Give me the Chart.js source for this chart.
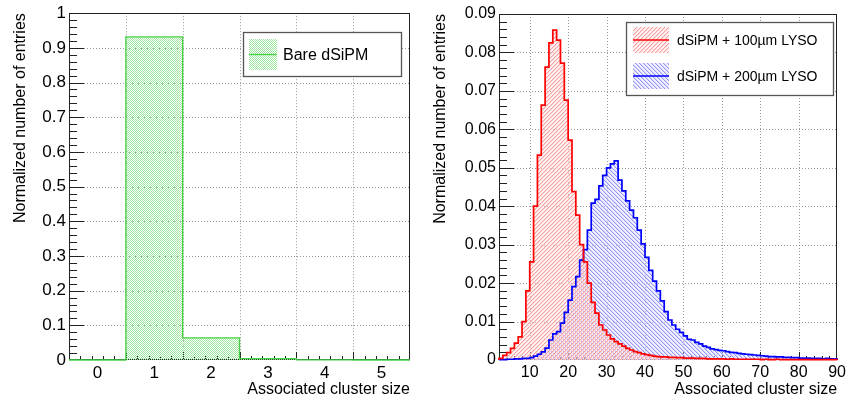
<!DOCTYPE html>
<html><head><meta charset="utf-8">
<script src="https://cdn.jsdelivr.net/npm/chart.js@4.4.0/dist/chart.umd.min.js"></script>
<style>
html,body{margin:0;padding:0;background:#fff;width:849px;height:403px;overflow:hidden}
#c1{position:absolute;left:0;top:0}
#c2{position:absolute;left:420px;top:0}
</style></head><body>
<canvas id="c1" width="420" height="403"></canvas>
<canvas id="c2" width="429" height="403"></canvas>
<script>
// ---------------- DATA ----------------
// Left panel: bare dSiPM, bins centred on integer cluster sizes
const bareCategories = [0, 1, 2, 3, 4, 5];
const bareValues = [0, 0.932, 0.064, 0.004, 0.0003, 0];
const leftXTickLabels = [0, 1, 2, 3, 4, 5];
const leftYTicks = [0, 0.1, 0.2, 0.3, 0.4, 0.5, 0.6, 0.7, 0.8, 0.9, 1];

// Right panel: bins [n, n+1) for n = 2 .. 89
const rightBinLow = [2,3,4,5,6,7,8,9,10,11,12,13,14,15,16,17,18,19,20,21,22,23,24,25,26,27,28,29,30,31,32,33,34,35,36,37,38,39,40,41,42,43,44,45,46,47,48,49,50,51,52,53,54,55,56,57,58,59,60,61,62,63,64,65,66,67,68,69,70,71,72,73,74,75,76,77,78,79,80,81,82,83,84,85,86,87,88,89];
const lyso100Values = [
  0.0004,0.0012,0.0019,0.0030,0.0044,0.0060,0.0100,0.0180,0.0255,0.0400,
  0.0533,0.0663,0.0762,0.0825,0.0858,0.0832,0.0772,0.0676,0.0572,0.0438,
  0.0377,0.0300,0.0255,0.0200,0.0150,0.0122,0.0091,0.0078,0.0065,0.0055,
  0.0048,0.0042,0.0036,0.0030,0.0026,0.0022,0.0019,0.0016,0.0014,0.0012,
  0.0010,0.0009,0.0008,0.0008,0.0007,0.0007,0.0006,0.0006,0.0005,0.0005,
  0.0005,0.0004,0.0004,0.0004,0.0003,0.0003,0.0003,0.0003,0.0003,0.0002,
  0.0003,0.0002,0.0002,0.0002,0.0002,0.0002,0.0002,0.0002,0.0001,0.0002,
  0.0001,0.0001,0.0002,0.0001,0.0001,0.0001,0.0001,0.0001,0.0001,0.0001,
  0.0001,0.0001,0.0001,0.0001,0.0001,0.0001,0.0001,0.0001
];
const lyso200Values = [
  0.0001,0.0001,0.0002,0.0002,0.0003,0.0003,0.0004,0.0004,0.0006,0.0010,
  0.0015,0.0021,0.0031,0.0052,0.0068,0.0074,0.0096,0.0124,0.0156,0.0191,
  0.0217,0.0260,0.0287,0.0338,0.0408,0.0418,0.0453,0.0480,0.0500,0.0510,
  0.0518,0.0468,0.0440,0.0414,0.0390,0.0370,0.0338,0.0302,0.0267,0.0233,
  0.0205,0.0180,0.0154,0.0126,0.0104,0.0091,0.0080,0.0072,0.0063,0.0054,
  0.0052,0.0046,0.0042,0.0036,0.0033,0.0029,0.0027,0.0025,0.0024,0.0022,
  0.0020,0.0019,0.0017,0.0016,0.0015,0.0014,0.0013,0.0012,0.0011,0.0010,
  0.0009,0.0009,0.0008,0.0008,0.0007,0.0007,0.0006,0.0006,0.0005,0.0005,
  0.0005,0.0004,0.0004,0.0004,0.0003,0.0004,0.0003,0.0003
];
const rightXTicks = [10, 20, 30, 40, 50, 60, 70, 80, 90];
const rightYTicks = [0, 0.01, 0.02, 0.03, 0.04, 0.05, 0.06, 0.07, 0.08, 0.09];

const FONT = "'Liberation Sans', Arial, Helvetica, sans-serif";

// ------------- helpers -------------
function histPoints(lowEdges, width, values) {
  const pts = [{x: lowEdges[0], y: 0}];
  values.forEach((v, i) => {
    pts.push({x: lowEdges[i], y: v});
    pts.push({x: lowEdges[i] + width, y: v});
  });
  pts.push({x: lowEdges[values.length - 1] + width, y: 0});
  return pts;
}
function makePattern(kind, main, base, soft) {
  const n = 4;
  const c = document.createElement('canvas');
  c.width = n; c.height = n;
  const g = c.getContext('2d');
  if (base) { g.fillStyle = base; g.fillRect(0, 0, n, n); }
  if (kind === 'checker') {
    g.fillStyle = main;
    for (let i = 0; i < n; i++) for (let j = 0; j < n; j++) if ((i + j) % 2 === 0) g.fillRect(i, j, 1, 1);
  } else {
    for (let i = 0; i < n; i++) {
      const y = kind === 'fwd' ? n - 1 - i : i;
      if (soft) { g.fillStyle = soft; g.fillRect((i + 1) % n, y, 1, 1); }
      g.fillStyle = main; g.fillRect(i, y, 1, 1);
    }
  }
  return g.createPattern(c, 'repeat');
}
function fmt(v) { return String(+Number(v).toFixed(3)); }

const rootFrame = {
  id: 'rootFrame',
  beforeDraw(chart, args, o) {
    const {ctx, chartArea: a, scales: {x, y}} = chart;
    ctx.save();
    ctx.lineWidth = 1;
    ctx.strokeStyle = '#9a9a9a';
    ctx.setLineDash([1, 2]);
    ctx.beginPath();
    o.xGrid.forEach(v => { const p = Math.round(x.getPixelForValue(v)) + 0.5; ctx.moveTo(p, a.top); ctx.lineTo(p, a.bottom); });
    o.yGrid.forEach(v => { const p = Math.round(y.getPixelForValue(v)) + 0.5; ctx.moveTo(a.left, p); ctx.lineTo(a.right, p); });
    ctx.stroke();
    ctx.setLineDash([]);
    ctx.strokeStyle = '#222';
    ctx.beginPath();
    o.yMinor.forEach(v => { const p = Math.round(y.getPixelForValue(v)) + 0.5; ctx.moveTo(a.left, p); ctx.lineTo(a.left + 8, p); });
    o.yMajor.forEach(v => { const p = Math.round(y.getPixelForValue(v)) + 0.5; ctx.moveTo(a.left, p); ctx.lineTo(a.left + 15, p); });
    o.xMinor.forEach(v => { const p = Math.round(x.getPixelForValue(v)) + 0.5; ctx.moveTo(p, a.bottom); ctx.lineTo(p, a.bottom - 4); });
    o.xMajor.forEach(v => { const p = Math.round(x.getPixelForValue(v)) + 0.5; ctx.moveTo(p, a.bottom); ctx.lineTo(p, a.bottom - 8); });
    ctx.stroke();
    ctx.strokeRect(Math.round(a.left) + 0.5, Math.round(a.top) + 0.5, Math.round(a.right - a.left) - 1, Math.round(a.bottom - a.top) - 1);
    ctx.restore();
  },
  afterDatasetsDraw(chart, args, o) {
    const {ctx} = chart;
    const L = o.legend;
    ctx.save();
    ctx.fillStyle = '#fff';
    ctx.fillRect(L.box[0], L.box[1], L.box[2], L.box[3]);
    ctx.lineWidth = 1.3;
    ctx.strokeStyle = '#555';
    ctx.strokeRect(L.box[0] + 0.5, L.box[1] + 0.5, L.box[2], L.box[3]);
    L.items.forEach(it => {
      ctx.fillStyle = it.pattern;
      ctx.fillRect(it.sym[0], it.sym[1], it.sym[2], it.sym[3]);
      ctx.strokeStyle = it.color;
      ctx.lineWidth = it.lw;
      const my = it.sym[1] + it.sym[3] / 2;
      ctx.beginPath(); ctx.moveTo(it.sym[0], my); ctx.lineTo(it.sym[0] + it.sym[2], my); ctx.stroke();
      ctx.fillStyle = '#000';
      ctx.font = L.fontSize + 'px ' + FONT;
      ctx.textBaseline = 'middle';
      ctx.textAlign = 'left';
      ctx.fillText(it.label, it.tx, my + 1);
    });
    ctx.restore();
  }
};

function axisCfg(min, max, tickVals, fixed, isX, titleText, fontSize) {
  return {
    type: 'linear', min, max,
    grid: {display: false, drawTicks: false},
    border: {display: false},
    afterBuildTicks: s => { s.ticks = tickVals.map(v => ({value: v})); },
    ticks: {font: {family: FONT, size: fontSize}, color: '#000', padding: 3,
            maxRotation: 0, autoSkip: false, callback: v => fmt(v)},
    title: {display: true, text: titleText, align: 'end', color: '#000',
            font: {family: FONT, size: 16}, padding: isX ? {top: 0, bottom: 4} : {top: 11, bottom: 0}},
    afterFit: s => { if (isX) s.height = fixed; else s.width = fixed; }
  };
}

// ------------- LEFT CHART -------------
const ctx1 = document.getElementById('c1').getContext('2d');
const greenPat = makePattern('checker', 'rgb(160,230,160)');
const bareLow = bareCategories.map(c => c - 0.5);
const leftGrid = bareCategories.slice(0, -1).map(c => c + 0.5);
const leftMinorX = [];
for (let e = -0.5; e < 5.5 - 1e-9; e += 1) for (let k = 1; k < 5; k++) leftMinorX.push(e + k * 0.2);
const leftMinorY = [];
for (let k = 1; k < 50; k++) if (k % 5) leftMinorY.push(k * 0.02);

new Chart(ctx1, {
  type: 'line',
  data: {datasets: [{
    data: histPoints(bareLow, 1, bareValues),
    borderColor: 'rgb(70,210,70)', borderWidth: 1.3, backgroundColor: greenPat,
    fill: 'origin', pointRadius: 0, tension: 0, clip: false, borderJoinStyle: 'miter'
  }]},
  options: {
    responsive: false, animation: false, devicePixelRatio: 1,
    layout: {padding: {top: 12, right: 10, left: 0, bottom: 0}},
    plugins: {legend: {display: false}, tooltip: {enabled: false},
      filler: {drawTime: 'beforeDatasetsDraw'},
      rootFrame: {
        xGrid: leftGrid, yGrid: leftYTicks.slice(1, -1),
        xMajor: leftGrid, xMinor: leftMinorX,
        yMajor: leftYTicks.slice(1, -1), yMinor: leftMinorY,
        legend: {box: [243, 32, 158, 44], fontSize: 16, items: [
          {label: 'Bare dSiPM', pattern: greenPat, color: 'rgb(70,210,70)', lw: 1.3, sym: [249, 39, 28, 31], tx: 283}
        ]}
      }},
    scales: {
      x: axisCfg(-0.5, 5.5, leftXTickLabels, 43, true, 'Associated cluster size', 17),
      y: axisCfg(0, 1, leftYTicks, 69, false, 'Normalized number of entries', 17)
    }
  },
  plugins: [rootFrame]
});

// ------------- RIGHT CHART -------------
const ctx2 = document.getElementById('c2').getContext('2d');
const redPat = makePattern('fwd', 'rgb(248,160,160)', 'rgba(255,225,225,0.4)', 'rgb(253,215,215)');
const bluePat = makePattern('bwd', 'rgb(150,150,248)', 'rgba(225,225,255,0.4)', 'rgb(212,212,253)');
const rightMinorX = [];
for (let v = 2; v < 90; v += 2) if (v % 10) rightMinorX.push(v);
const rightMinorY = [];
for (let k = 1; k < 45; k++) if (k % 5) rightMinorY.push(k * 0.002);

new Chart(ctx2, {
  type: 'line',
  data: {datasets: [
    {data: histPoints(rightBinLow, 1, lyso100Values), borderColor: '#ff0000', borderWidth: 1.7,
     backgroundColor: redPat, fill: 'origin', pointRadius: 0, tension: 0, clip: false, order: 0, borderJoinStyle: 'miter'},
    {data: histPoints(rightBinLow, 1, lyso200Values), borderColor: '#0000ff', borderWidth: 1.7,
     backgroundColor: bluePat, fill: 'origin', pointRadius: 0, tension: 0, clip: false, order: 1, borderJoinStyle: 'miter'}
  ]},
  options: {
    responsive: false, animation: false, devicePixelRatio: 1,
    layout: {padding: {top: 14, right: 10, left: 0, bottom: 0}},
    plugins: {legend: {display: false}, tooltip: {enabled: false},
      filler: {drawTime: 'beforeDatasetsDraw'},
      rootFrame: {
        xGrid: rightXTicks.slice(0, -1), yGrid: rightYTicks.slice(1, -1),
        xMajor: rightXTicks.slice(0, -1), xMinor: rightMinorX,
        yMajor: rightYTicks.slice(1, -1), yMinor: rightMinorY,
        legend: {box: [206, 22, 207, 73], fontSize: 14, items: [
          {label: 'dSiPM + 100\u00b5m LYSO', pattern: redPat, color: '#ff0000', lw: 1.5, sym: [213, 27, 36, 26], tx: 257},
          {label: 'dSiPM + 200\u00b5m LYSO', pattern: bluePat, color: '#0000ff', lw: 1.5, sym: [213, 63, 36, 26], tx: 257}
        ]}
      }},
    scales: {
      x: axisCfg(2, 90, rightXTicks, 43, true, 'Associated cluster size', 16),
      y: axisCfg(0, 0.09, rightYTicks, 79, false, 'Normalized number of entries', 16)
    }
  },
  plugins: [rootFrame]
});
</script>
</body></html>
